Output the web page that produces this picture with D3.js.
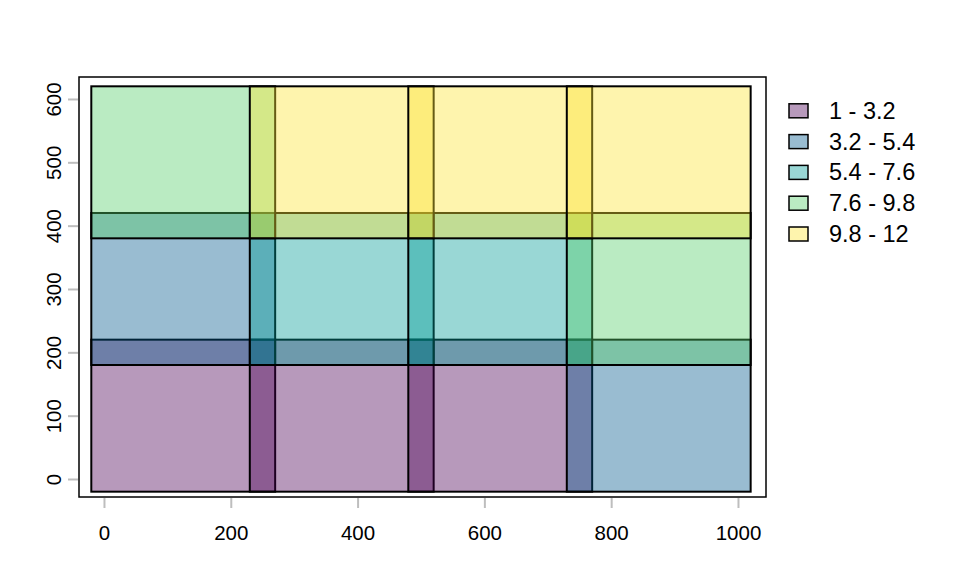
<!DOCTYPE html>
<html>
<head>
<meta charset="utf-8">
<script src="https://cdn.jsdelivr.net/npm/d3@7"></script>
<style>
  body { margin: 0; background: #fff; }
  svg { display: block; font-family: "Liberation Sans", Arial, sans-serif; }
</style>
</head>
<body>
<div id="chart"></div>
<script>
// polygon extents (map units), one cell per column / row
const colMin = [-20, 230, 480, 730];
const colMax = [270, 520, 770, 1020];
const rowMin = [-20, 180, 380];
const rowMax = [220, 420, 620];
// value of each cell, filled row by row from the bottom
const cellValues = [1, 2, 3, 4, 5, 6, 7, 8, 9, 10, 11, 12];
const breaks = [1, 3.2, 5.4, 7.6, 9.8, 12];
const legendLabels = ["1 - 3.2", "3.2 - 5.4", "5.4 - 7.6", "7.6 - 9.8", "9.8 - 12"];
const palette = ["#4B0055", "#00588B", "#009B95", "#53CC67", "#FDE333"];
const xTicks = [0, 200, 400, 600, 800, 1000];
const yTicks = [0, 100, 200, 300, 400, 500, 600];

const W = 960, H = 576;
const box = {left: 79, right: 766, top: 77, bottom: 497};
const fontFamily = "Liberation Sans, Arial, sans-serif";

const svg = d3.select("#chart").append("svg")
    .attr("width", W)
    .attr("height", H);

// same scale on both axes (aspect 1)
const x = d3.scaleLinear().domain([-39.4, 1044.2]).range([box.left, box.right]);
const y = d3.scaleLinear().domain([-28.4, 634.7]).range([box.bottom, box.top]);

const color = d3.scaleThreshold()
    .domain(breaks.slice(1, -1))
    .range(palette);

// build the cells
const cells = [];
rowMin.forEach((r, j) => {
    colMin.forEach((c, i) => {
        cells.push({
            x0: c, x1: colMax[i],
            y0: r, y1: rowMax[j],
            value: cellValues[j * colMin.length + i]
        });
    });
});

svg.append("g")
    .selectAll("rect")
    .data(cells)
    .enter()
    .append("rect")
        .attr("x", d => x(d.x0))
        .attr("y", d => y(d.y1))
        .attr("width", d => x(d.x1) - x(d.x0))
        .attr("height", d => y(d.y0) - y(d.y1))
        .attr("fill", d => color(d.value))
        .attr("fill-opacity", 0.4)
        .attr("stroke", "#000")
        .attr("stroke-width", 2);

// frame
svg.append("rect")
    .attr("x", box.left)
    .attr("y", box.top)
    .attr("width", box.right - box.left)
    .attr("height", box.bottom - box.top)
    .attr("fill", "none")
    .attr("stroke", "#000")
    .attr("stroke-width", 1.5);

// X axis
const xAxis = svg.append("g")
    .attr("transform", "translate(0," + (box.bottom + 1) + ")")
    .call(d3.axisBottom(x).tickValues(xTicks).tickFormat(d3.format("d")).tickSize(10).tickPadding(17));
xAxis.select(".domain").remove();
xAxis.selectAll("line").attr("stroke", "#bebebe").attr("stroke-width", 2);
xAxis.selectAll("text")
    .attr("font-size", 20.5)
    .attr("fill", "#000")
    .attr("font-family", fontFamily);

// Y axis, labels turned up like base R
const yAxis = svg.append("g")
    .attr("transform", "translate(" + (box.left - 1) + ",0)")
    .call(d3.axisLeft(y).tickValues(yTicks).tickFormat(d3.format("d")).tickSize(10).tickPadding(0));
yAxis.select(".domain").remove();
yAxis.selectAll("line").attr("stroke", "#bebebe").attr("stroke-width", 2);
yAxis.selectAll("text")
    .attr("font-size", 20.5)
    .attr("fill", "#000")
    .attr("font-family", fontFamily)
    .attr("text-anchor", "middle")
    .attr("dy", null)
    .attr("x", null)
    .attr("transform", "translate(-25,0) rotate(-90)")
    .attr("dominant-baseline", "central");

// legend
const legend = svg.append("g");
const rowH = 30.8;
legendLabels.forEach((label, i) => {
    const cy = 110.8 + i * rowH;
    legend.append("rect")
        .attr("x", 789)
        .attr("y", cy - 7)
        .attr("width", 19)
        .attr("height", 14)
        .attr("fill", palette[i])
        .attr("fill-opacity", 0.4)
        .attr("stroke", "#000")
        .attr("stroke-width", 1.5);
    legend.append("text")
        .attr("x", 829)
        .attr("y", cy)
        .attr("dominant-baseline", "central")
        .attr("font-size", 23.5)
        .attr("font-family", fontFamily)
        .text(label);
});
</script>
</body>
</html>
